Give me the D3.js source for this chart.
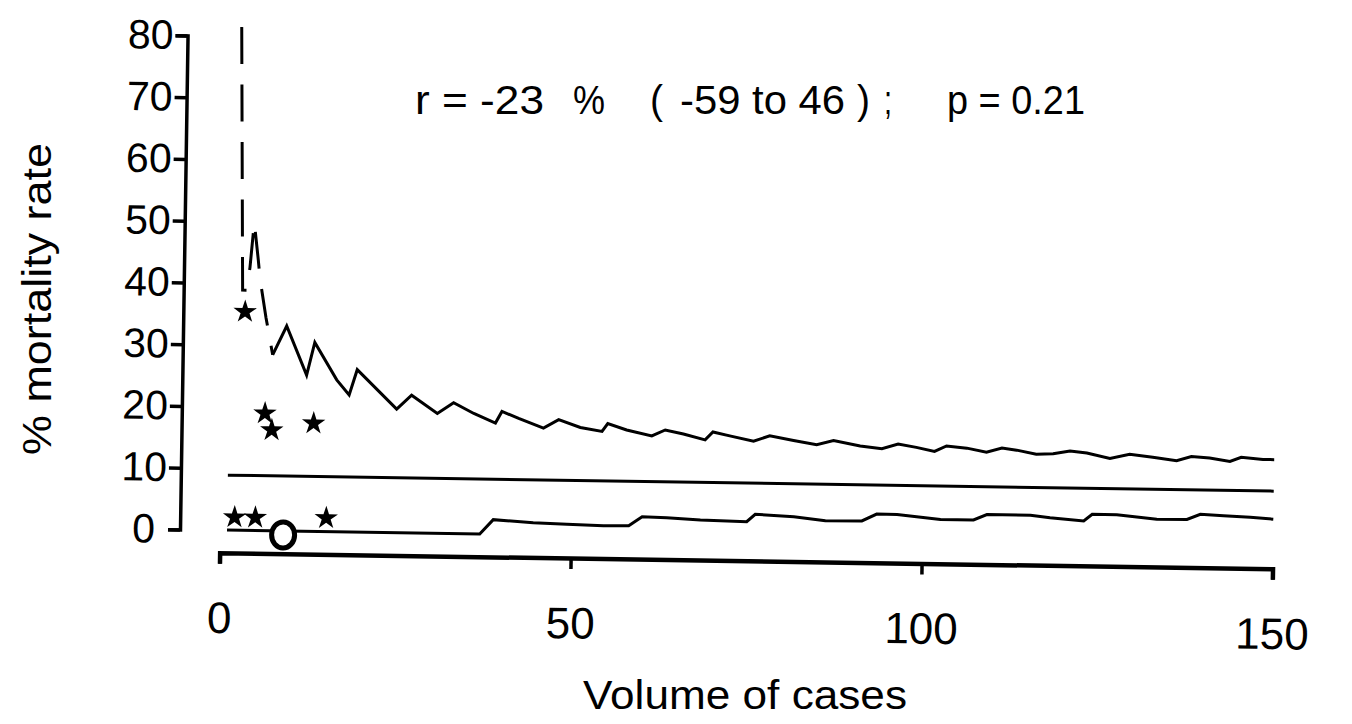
<!DOCTYPE html>
<html>
<head>
<meta charset="utf-8">
<script src="https://cdn.jsdelivr.net/npm/d3@7"></script>
<style>
  html, body { margin: 0; padding: 0; background: #fff; }
  svg { display: block; }
  text { font-family: "Liberation Sans", Arial, Helvetica, sans-serif; fill: #000; }
</style>
</head>
<body>
<svg id="chart" width="1352" height="724"></svg>
<script>
// ---------- data ----------
const yTicks = [0, 10, 20, 30, 40, 50, 60, 70, 80];
const xTicks = [0, 50, 100, 150];

// upper 95% control limit (sawtooth)
const upperN = [1.7, 2.7, 3.27, 3.7, 4.22, 4.87, 5.15, 6.09, 7.12, 9.06, 12.0, 13.1, 16.3, 18.1, 19.2, 24.9, 27.0, 30.7, 33.0, 35.9, 39.0, 39.9, 42.3, 45.85, 48.0, 51.1, 54.2, 55.0, 57.7, 61.3, 63.2, 65.8, 68.9, 70.0, 72.4, 75.8, 78.1, 81.5, 84.8, 87.2, 91.0, 94.1, 96.4, 99.0, 101.6, 103.3, 106.2, 109.0, 111.2, 113.3, 116.1, 118.5, 120.9, 123.3, 126.6, 129.4, 132.7, 136.1, 138.2, 140.8, 143.7, 145.3, 148.4, 150];
const upperV = [100, 38.9, 38.9, 42.6, 49.9, 43.8, 40.8, 34.5, 28.5, 33.2, 25.3, 30.6, 24.6, 22.2, 26.3, 20.0, 22.3, 19.4, 21.2, 19.5, 18.0, 19.9, 18.8, 17.3, 18.7, 17.5, 16.9, 18.2, 17.2, 16.3, 17.3, 16.7, 15.8, 17.1, 16.5, 15.7, 16.6, 15.9, 15.3, 16.0, 15.2, 14.8, 15.6, 15.1, 14.5, 15.4, 15.1, 14.5, 15.2, 14.9, 14.3, 14.4, 14.9, 14.6, 13.8, 14.5, 14.1, 13.6, 14.3, 14.1, 13.6, 14.3, 14.0, 14.0];
const upperDashedCount = 9; // first points drawn dashed

// mean mortality line
const meanN = [1, 150];
const meanV = [8.9, 8.9];

// lower 95% control limit
const lowerN = [1, 37.0, 38.9, 44.6, 49.4, 54.6, 58.2, 60.1, 63.6, 68.4, 75.0, 76.2, 81.7, 86.2, 91.4, 93.5, 96.4, 102.6, 107.3, 109.2, 115.4, 118.2, 123.0, 124.2, 127.7, 133.4, 137.7, 139.6, 142.9, 146.7, 150];
const lowerV = [0, 0, 2.35, 1.96, 1.78, 1.65, 1.7, 3.2, 3.1, 2.8, 2.64, 3.87, 3.58, 3.0, 3.05, 4.2, 4.2, 3.5, 3.5, 4.4, 4.4, 4.05, 3.6, 4.7, 4.7, 4.05, 4.1, 4.97, 4.8, 4.6, 4.35];

// hospitals (stars)
const starN = [3.1, 6.15, 7.15, 13.1, 2.05, 5.0, 15.1];
const starV = [35.4, 19.0, 16.3, 17.5, 2.1, 2.1, 2.2];

// highlighted hospital (O)
const oN = [9.0];
const oV = [-0.65];

const titleParts = ["r = -23", "%", "(", "-59 to 46", ")", ";", "p = 0.21"];
const xLabel = "Volume of cases";
const yLabel = "% mortality rate";

// ---------- drawing ----------
const svg = d3.select("#chart");
const x = d3.scaleLinear().domain([0, 150]).range([220, 1273]);
const y = d3.scaleLinear().domain([0, 80]).range([530, 36]);

// the scanned figure is slightly rotated clockwise
const g = svg.append("g").attr("transform", "rotate(0.875,220,530)");

g.append("clipPath").attr("id", "clipTop")
  .append("rect").attr("x", 0).attr("y", y(81.5)).attr("width", 1352).attr("height", 724);

// Y axis
const ya = g.append("g").attr("transform", "translate(180,0)")
  .call(d3.axisLeft(y).tickValues(yTicks).tickSize(12).tickSizeOuter(12).tickPadding(2));
ya.attr("font-family", null).attr("font-size", null);
ya.select(".domain").attr("stroke", "#000").attr("stroke-width", 3.5);
ya.selectAll(".tick line").attr("stroke", "#000").attr("stroke-width", 3.5);
ya.selectAll(".tick text").style("font-size", "41px").attr("fill", "#000");
ya.selectAll(".tick text").filter(d => d === 0).attr("x", -25);

// X axis
const xa = g.append("g").attr("transform", "translate(0,552.7)")
  .call(d3.axisBottom(x).tickValues(xTicks).tickSize(11).tickSizeOuter(11).tickPadding(38));
xa.attr("font-family", null).attr("font-size", null);
xa.select(".domain").attr("stroke", "#000").attr("stroke-width", 4.5);
xa.selectAll(".tick line").attr("stroke", "#000").attr("stroke-width", 3.5);
xa.selectAll(".tick text").style("font-size", "44px").attr("fill", "#000");

const line = d3.line().x(d => x(d[0])).y(d => y(d[1]));

const upper = upperN.map((n, i) => [n, upperV[i]]);
const upperDashed = upper.slice(0, upperDashedCount);
const upperSolid = upper.slice(upperDashedCount - 1);

// dashed, steep first part of the upper limit
const dashPeriod = 57.5;
const d0 = y(81.5) - y(100);
g.append("path")
  .attr("d", line(upperDashed))
  .attr("clip-path", "url(#clipTop)")
  .attr("fill", "none").attr("stroke", "#000").attr("stroke-width", 3)
  .attr("stroke-dasharray", "37,20.5")
  .attr("stroke-dashoffset", (dashPeriod - (d0 % dashPeriod)) % dashPeriod);

g.append("path")
  .attr("d", line(upperSolid))
  .attr("fill", "none").attr("stroke", "#000").attr("stroke-width", 3)
  .attr("stroke-linejoin", "miter");

g.append("path")
  .attr("d", line(meanN.map((n, i) => [n, meanV[i]])))
  .attr("fill", "none").attr("stroke", "#000").attr("stroke-width", 3);

g.append("path")
  .attr("d", line(lowerN.map((n, i) => [n, lowerV[i]])))
  .attr("fill", "none").attr("stroke", "#000").attr("stroke-width", 3);

// stars
const star = d3.symbol().type(d3.symbolStar).size(170);
g.selectAll("path.star")
  .data(starN.map((n, i) => [n, starV[i]]))
  .join("path").attr("class", "star")
  .attr("transform", d => `translate(${x(d[0])},${y(d[1])})`)
  .attr("d", star)
  .attr("fill", "#000");

// O marker
g.selectAll("ellipse.o")
  .data(oN.map((n, i) => [n, oV[i]]))
  .join("ellipse").attr("class", "o")
  .attr("cx", d => x(d[0])).attr("cy", d => y(d[1]))
  .attr("rx", 11.5).attr("ry", 13)
  .attr("fill", "#fff").attr("stroke", "#000").attr("stroke-width", 5);

// title
const titleX = [415, 573, 650, 680, 857, 884, 947];
const titleW = [129, 32, 13, 165, 13, 8, 138];
svg.selectAll("text.title")
  .data(titleParts)
  .join("text").attr("class", "title")
  .attr("x", (d, i) => titleX[i]).attr("y", 114)
  .attr("textLength", (d, i) => titleW[i]).attr("lengthAdjust", "spacingAndGlyphs")
  .style("font-size", "41px")
  .text(d => d);

// axis titles
svg.append("text")
  .attr("x", 745).attr("y", 709)
  .attr("text-anchor", "middle")
  .attr("textLength", 324).attr("lengthAdjust", "spacingAndGlyphs")
  .style("font-size", "40px")
  .text(xLabel);

svg.append("text")
  .attr("transform", "translate(51,299) rotate(-90)")
  .attr("text-anchor", "middle")
  .attr("textLength", 312).attr("lengthAdjust", "spacingAndGlyphs")
  .style("font-size", "40px")
  .text(yLabel);
</script>
</body>
</html>
